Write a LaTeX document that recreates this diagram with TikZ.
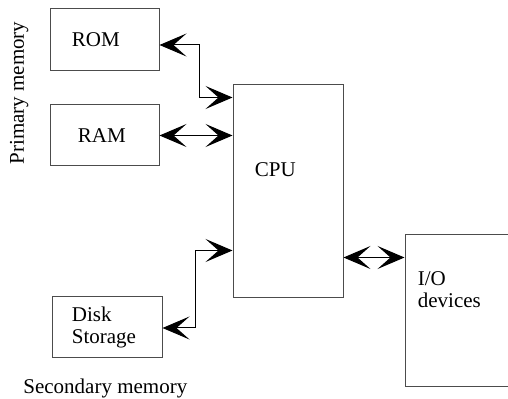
\documentclass[tikz,border=0pt]{standalone}
\usepackage{fontspec}
\setmainfont{Liberation Serif}
\usepackage{tikz}
\usetikzlibrary{arrows.meta,positioning}

\begin{document}
\begin{tikzpicture}[
  x=0.5pt, y=-0.5pt,
  chev/.tip={Stealth[length=13.5pt, width=11.5pt, inset=6.5pt]},
  unit/.style={draw=black!70, line width=0.5pt, inner sep=0pt},
  lbl/.style={font=\rmfamily\fontsize{10.5}{11}\selectfont, inner sep=0pt, align=left},
  arr/.style={chev-chev, line width=0.5pt, black}
]
  \clip (0,0) rectangle (508,399);
  % Boxes
  \node[unit, minimum width=54.5pt, minimum height=31pt] (rom) at (104.5,40) {};
  \node[unit, minimum width=54.5pt, minimum height=30.5pt] (ram) at (104.5,135.5) {};
  \node[unit, minimum width=55pt, minimum height=106.5pt] (cpu) at (288,191.5) {};
  \node[unit, minimum width=55pt, minimum height=30.5pt] (disk) at (107,327.5) {};
  \node[unit, minimum width=60pt, minimum height=76pt] (io) at (465,311) {};
  % Texts
  \node[lbl, anchor=west] (romtxt) at ([shift={(22,0)}]rom.west) {ROM};
  \node[lbl, anchor=west] (ramtxt) at ([shift={(28,0)}]ram.west) {RAM};
  \node[lbl, anchor=base west] (cputxt) at ([shift={(22,92)}]cpu.north west) {CPU};
  \node[lbl, anchor=west] (disktxt) at ([shift={(20,0)}]disk.west) {Disk\\Storage};
  \node[lbl, anchor=base west] (iotxt) at ([shift={(13,73)}]io.north west) {I/O\\devices};
  \node[lbl, anchor=base west] (secmem) at (23,394) {Secondary memory};
  \node[lbl, anchor=base, rotate=90] (primem) at (24,93) {Primary memory};
  % Buses
  \draw[arr] ([shift={(0,5)}]rom.east) -- ++(40,0) |- ([shift={(0,13)}]cpu.north west);
  \draw[arr] (ram.east) -- (ram.east -| cpu.west);
  \draw[arr] ([shift={(0,0.5)}]disk.east) -- ++(33,0) |- ([shift={(0,166)}]cpu.north west);
  \draw[arr] ([shift={(0,173)}]cpu.north east) coordinate (cpuio) -- (cpuio -| io.west);
\end{tikzpicture}
\end{document}
